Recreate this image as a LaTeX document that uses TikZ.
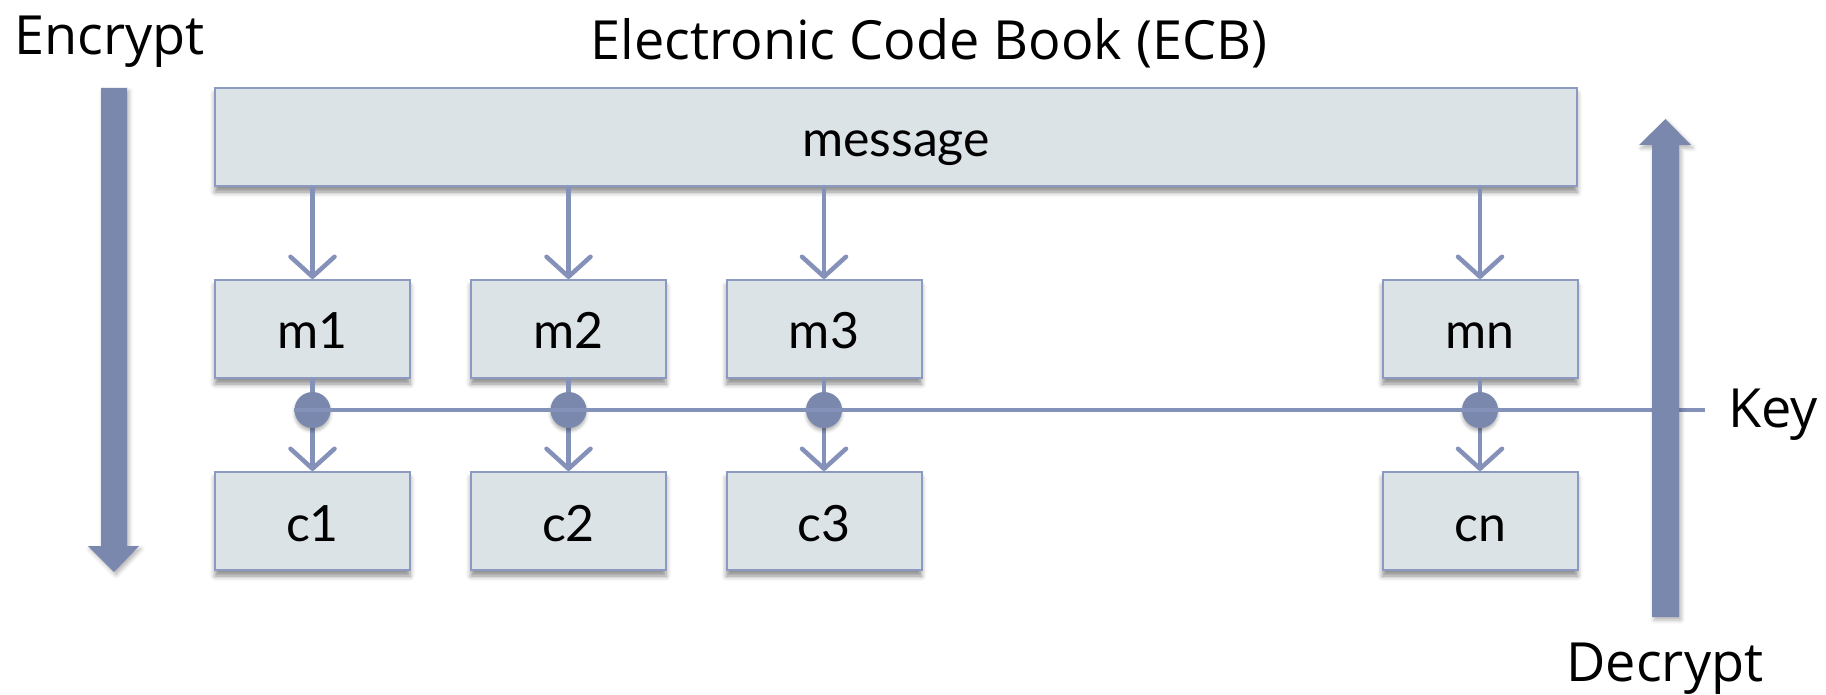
\documentclass[tikz,border=0pt]{standalone}
\usepackage{fontspec}
\setmainfont{Lato}
\newfontfamily\handfont{Open Sans}
\usetikzlibrary{arrows.meta,shadows.blur}
\definecolor{boxfill}{RGB}{219,227,231}
\definecolor{boxline}{RGB}{140,153,192}
\definecolor{connline}{RGB}{132,146,186}
\definecolor{bigarrow}{RGB}{123,136,173}
\begin{document}
\begin{tikzpicture}[x=0.5pt,y=-0.5pt,
  blockbox/.style={draw=boxline, line width=1pt, fill=boxfill,
    minimum width=97.5pt, minimum height=49pt, inner sep=0pt,
    text height=20pt, text depth=0pt,
    font=\fontsize{25}{29}\selectfont,
    blur shadow={shadow xshift=0pt, shadow yshift=-3pt,
      shadow blur radius=2.5pt, shadow opacity=45}},
  conn/.style={draw=connline, line width=2.25pt,
    -{Straight Barb[length=10pt,width=22pt,line width=2.25pt,round]}},
  keydot/.style={circle, fill=bigarrow, minimum size=18pt, inner sep=0pt,
    blur shadow={shadow xshift=0pt, shadow yshift=-1.5pt,
      shadow blur radius=1.5pt, shadow opacity=30}},
  keyline/.style={draw=connline, line width=2pt},
  bigarrowfill/.style={fill=bigarrow,
    blur shadow={shadow xshift=1pt, shadow yshift=-1.5pt,
      shadow blur radius=2pt, shadow opacity=30}},
  handtext/.style={inner sep=0pt, font=\handfont\fontsize{27}{32}\selectfont}]
\useasboundingbox (0,0) rectangle (1826,695);

% plaintext block
\node[blockbox, minimum width=681pt] (msg) at (896,137) {message};

% message blocks
\node[blockbox] (m1) at (312.5,329) {m1};
\node[blockbox] (m2) at (568.5,329) {m2};
\node[blockbox] (m3) at (824,329) {m3};
\node[blockbox] (mn) at (1480,329) {mn};

% ciphertext blocks
\node[blockbox] (c1) at (312.5,521) {c1};
\node[blockbox] (c2) at (568.5,521) {c2};
\node[blockbox] (c3) at (824,521) {c3};
\node[blockbox] (cn) at (1480,521) {cn};

% splitting the message
\foreach \b in {m1,m2,m3,mn}
  \draw[conn] (msg.south -| \b.north) -- (\b);

% block-wise encryption
\foreach \a/\b in {m1/c1,m2/c2,m3/c3,mn/cn}
  \draw[conn] (\a) -- (\b);

% key junctions
\node[keydot] (k1) at (312.5,410) {};
\node[keydot] (k2) at (568.5,410) {};
\node[keydot] (k3) at (824,410) {};
\node[keydot] (kn) at (1480,410) {};
\coordinate (keyend) at (1705,410);
\draw[keyline] (k1.west) -- (keyend);

% direction arrows
\fill[bigarrowfill] (101,88) -- (127,88) -- (127,546) -- (139,546)
  -- (114,572) -- (88,546) -- (101,546) -- cycle;
\fill[bigarrowfill] (1652,617) -- (1679,617) -- (1679,145) -- (1691,145)
  -- (1665.5,119) -- (1639,145) -- (1652,145) -- cycle;

% labels
\node[handtext, anchor=base west] (enc) at (14,55) {Encrypt};
\node[handtext, anchor=base] (title) at (929,60) {Electronic Code Book (ECB)};
\node[handtext, anchor=base west] (keylbl) at (1728,427) {Key};
\node[handtext, anchor=base] (dec) at (1665,681) {Decrypt};
\end{tikzpicture}
\end{document}
